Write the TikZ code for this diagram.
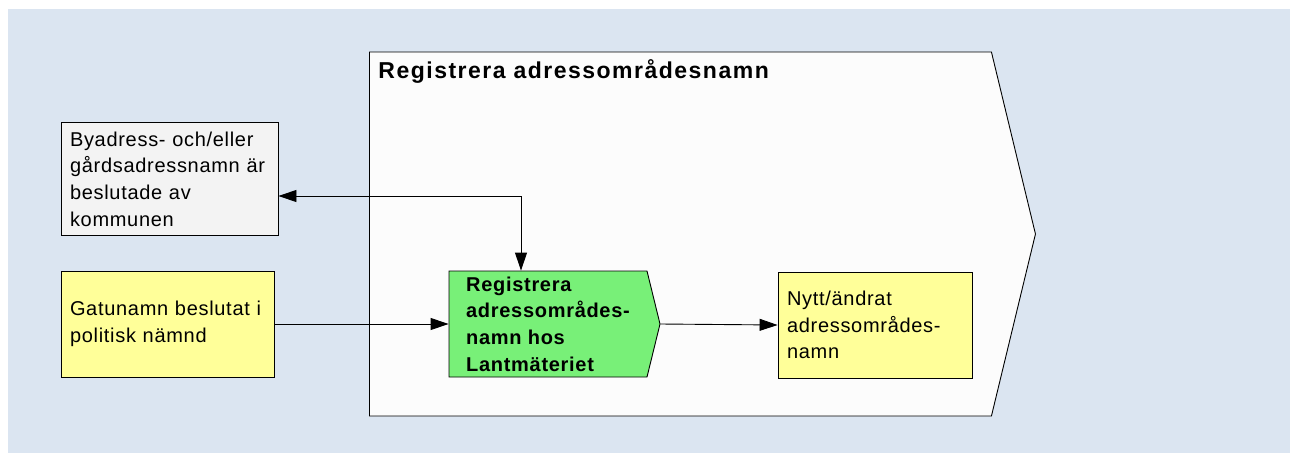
\documentclass[tikz,border=0pt]{standalone}
\usepackage{fontspec}
\setmainfont{Liberation Sans}[LetterSpace=3.5]
\newfontfamily\titlefont{Liberation Sans}[LetterSpace=6.5]
\usetikzlibrary{arrows.meta,shapes.symbols}
\definecolor{bgblue}{RGB}{219,229,241}
\definecolor{areawhite}{RGB}{252,252,252}
\definecolor{inputgray}{RGB}{243,243,243}
\definecolor{docyellow}{RGB}{255,255,153}
\definecolor{procgreen}{RGB}{120,240,120}
\tikzstyle{area} = [draw, fill=areawhite, signal, signal to=east, signal pointer angle=152.8, minimum width=666pt, minimum height=364pt, inner sep=0pt]
\tikzstyle{block} = [draw, rectangle, align=left, inner sep=9pt, font=\fontsize{20}{26.6}\selectfont]
\tikzstyle{process} = [draw, fill=procgreen, signal, signal to=east, signal pointer angle=152.4, minimum width=211pt, minimum height=106pt, align=left, inner sep=0pt, font=\bfseries\fontsize{20}{26.6}\selectfont]
\tikzstyle{line} = [draw, ->]

\begin{document}
\begin{tikzpicture}[x=1pt, y=-1pt, line width=0.9pt, >={Triangle[length=18pt,width=12pt]}]
    \useasboundingbox (0,0) rectangle (1290,453);
    \fill [bgblue] (8,9) rectangle (1290,453);

    % Place nodes
    \node [area, anchor=west] (area) at (369,234) {};
    \node [anchor=base west, inner sep=0pt, font=\titlefont\bfseries\fontsize{23}{28}\selectfont] (title) at ([xshift=9pt,yshift=-27pt]area.north west) {Registrera adressområdesnamn};

    \node [block, fill=inputgray, text width=199pt, minimum height=112pt] (byadress) at (169.5,179) {Byadress- och/eller\\gårdsadressnamn är\\beslutade av\\kommunen};
    \node [block, fill=docyellow, text width=195pt, minimum height=106pt, below of = byadress, node distance=145pt, xshift=-2pt] (gatunamn) {Gatunamn beslutat i\\politisk nämnd};
    \node [process, right of = gatunamn, node distance=387pt, xshift=-6.5pt] (registrera) {Registrera\\adressområdes-\\namn hos\\Lantmäteriet};
    \node [block, fill=docyellow, text width=176pt, minimum height=106pt, right of = registrera, node distance=327pt, yshift=-1pt] (nytt) {Nytt/ändrat\\adressområdes-\\namn};

    % Draw edges
    \path [line, <->] ([yshift=-17pt]byadress.east) -| ([xshift=-27pt]registrera.north);
    \path [line] (gatunamn.east) -- (registrera.west);
    \path [line] (registrera.east) -- (nytt.west);
\end{tikzpicture}
\end{document}
